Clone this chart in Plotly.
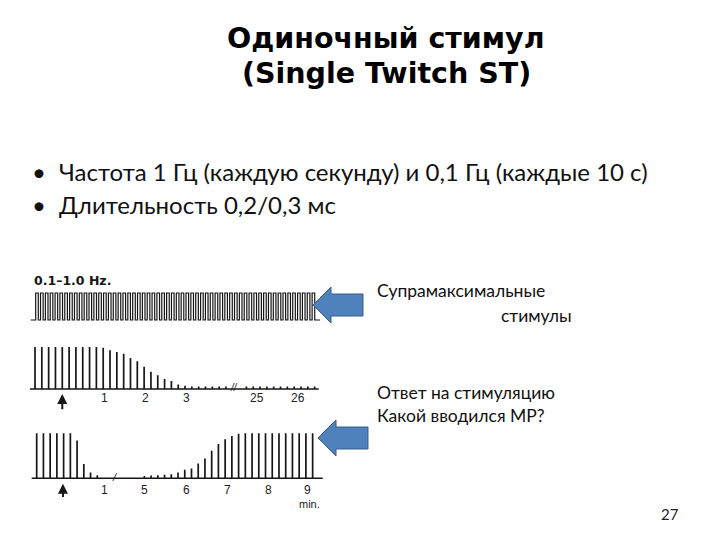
import plotly.graph_objects as go

# ---------------- data ----------------
title_lines = ["Одиночный стимул", "(Single Twitch ST)"]
bullets = ["Частота 1 Гц (каждую секунду) и 0,1 Гц (каждые 10 с)",
           "Длительность 0,2/0,3 мс"]
side_texts = ["Супрамаксимальные", "стимулы", "Ответ на стимуляцию", "Какой вводился МР?"]
page_number = "27"

# strip 1: supramaximal stimuli (constant amplitude)
stim_idx = list(range(58))
stim_amp = [1, 1, 1, 1, 1, 1, 1, 1, 1, 1, 1, 1, 1, 1, 1, 1, 1, 1, 1, 1,
            1, 1, 1, 1, 1, 1, 1, 1, 1, 1, 1, 1, 1, 1, 1, 1, 1, 1, 1, 1,
            1, 1, 1, 1, 1, 1, 1, 1, 1, 1, 1, 1, 1, 1, 1, 1, 1, 1]
stim_label = "0.1–1.0 Hz."

# strip 2: twitch response (depolarising block)
resp2_idx = list(range(29)) + list(range(31, 42))
resp2_h = [1, 1, 1, 1, 1, 1, 1, 1, 1, 1,
           0.98, 0.92, 0.88, 0.84, 0.74, 0.66, 0.53, 0.41, 0.33, 0.24,
           0.19, 0.11, 0.08, 0.06, 0.06, 0.06, 0.06, 0.06, 0.06,
           0.06, 0.06, 0.06, 0.06, 0.06, 0.06, 0.06, 0.06, 0.06, 0.06, 0.06]
resp2_tick_pos = [10.2, 16.2, 22.2, 32.6, 38.6]
resp2_tick_txt = ["1", "2", "3", "25", "26"]
resp2_inject = 4
resp2_break = 29.2

# strip 3: twitch response (non-depolarising block and recovery)
resp3_idx = list(range(10)) + list(range(16, 42))
resp3_h = [1, 1, 1, 1, 1, 1, 0.84, 0.32, 0.13, 0.07,
           0.05, 0.06, 0.07, 0.08, 0.09, 0.13, 0.19, 0.22, 0.33, 0.44,
           0.61, 0.76, 0.87, 0.94, 0.99, 1, 1, 1, 1, 1, 1, 1, 1, 1, 1, 1]
resp3_tick_pos = [10.1, 16.0, 22.3, 28.3, 34.4, 40.3]
resp3_tick_txt = ["1", "5", "6", "7", "8", "9"]
resp3_inject = 3.9
resp3_break = 11.6
resp3_unit = "min."

# page is 720x540 with an 8px body margin around the figure
OFF = 8
W, H = 720 - 2 * OFF, 540 - 2 * OFF
INK = "#161616"


def fx(px):
    return (px - OFF) / W


def fy(py):
    return 1 - (py - OFF) / H


def px_dom(a, b):
    return [fx(a), fx(b)]


def py_dom(top, bottom):
    return [fy(bottom), fy(top)]


fig = go.Figure()

# ---- strip 1: square pulses ----
sx, sy = [-1.3], [0]
for i, a in zip(stim_idx, stim_amp):
    sx += [i - 0.27, i - 0.27, i + 0.27, i + 0.27]
    sy += [0, a, a, 0]
sx.append(58.4)
sy.append(0)
fig.add_trace(go.Scatter(x=sx, y=sy, mode="lines", line=dict(color=INK, width=1.2),
                         xaxis="x", yaxis="y", hoverinfo="skip", showlegend=False))

# ---- strip 2 ----
bx, by = [], []
for i, h in zip(resp2_idx, resp2_h):
    bx += [i, i, None]
    by += [0, h, None]
fig.add_trace(go.Scatter(x=bx, y=by, mode="lines", line=dict(color=INK, width=1.7),
                         xaxis="x2", yaxis="y2", hoverinfo="skip", showlegend=False))
fig.add_trace(go.Scatter(x=[-0.75, 41.6], y=[0, 0], mode="lines", line=dict(color=INK, width=1.6),
                         xaxis="x2", yaxis="y2", hoverinfo="skip", showlegend=False))

# ---- strip 3 ----
cx, cy = [], []
for i, h in zip(resp3_idx, resp3_h):
    cx += [i, i, None]
    cy += [0, h, None]
fig.add_trace(go.Scatter(x=cx, y=cy, mode="lines", line=dict(color=INK, width=1.7),
                         xaxis="x3", yaxis="y3", hoverinfo="skip", showlegend=False))
fig.add_trace(go.Scatter(x=[-0.75, 42.5], y=[0, 0], mode="lines", line=dict(color=INK, width=1.6),
                         xaxis="x3", yaxis="y3", hoverinfo="skip", showlegend=False))

MID = dict(xanchor="center", yanchor="middle", showarrow=False)
ann = []
tickfont = dict(family="Liberation Sans", size=12, color="#222")
for p, t in zip(resp2_tick_pos, resp2_tick_txt):
    ann.append(dict(x=p, y=-0.22, xref="x2", yref="y2", text=t, font=tickfont, **MID))
for p, t in zip(resp3_tick_pos, resp3_tick_txt):
    ann.append(dict(x=p, y=-0.26, xref="x3", yref="y3", text=t, font=tickfont, **MID))
ann.append(dict(x=resp3_tick_pos[-1] + 0.2, y=-0.58, xref="x3", yref="y3", text=resp3_unit,
                font=dict(family="Liberation Sans", size=11, color="#222"), **MID))
# injection arrows
ann.append(dict(x=resp2_inject, y=-0.12, ax=resp2_inject, ay=-0.52, xref="x2", yref="y2",
                axref="x2", ayref="y2", text="", showarrow=True, arrowhead=2, arrowsize=1,
                arrowwidth=2, arrowcolor=INK))
ann.append(dict(x=resp3_inject, y=-0.12, ax=resp3_inject, ay=-0.45, xref="x3", yref="y3",
                axref="x3", ayref="y3", text="", showarrow=True, arrowhead=2, arrowsize=1,
                arrowwidth=2, arrowcolor=INK))
# break marks
ann.append(dict(x=resp2_break, y=0.04, xref="x2", yref="y2", text="<i>//</i>",
                font=dict(family="Liberation Sans", size=10, color=INK), **MID))
ann.append(dict(x=resp3_break, y=0.04, xref="x3", yref="y3", text="<i>/</i>",
                font=dict(family="Liberation Sans", size=11, color=INK), **MID))
# strip 1 label
ann.append(dict(x=-1.1, y=1.48, xref="x", yref="y", text="<b>" + stim_label + "</b>",
                xanchor="left", yanchor="middle", showarrow=False,
                font=dict(family="DejaVu Sans", size=12.5, color=INK)))

# title
tfont = dict(family="DejaVu Sans", size=28.5, color="#000")
ann.append(dict(x=fx(386), y=fy(38), xref="paper", yref="paper", text="<b>" + title_lines[0] + "</b>",
                font=tfont, **MID))
ann.append(dict(x=fx(386), y=fy(74), xref="paper", yref="paper", text="<b>" + title_lines[1] + "</b>",
                font=tfont, **MID))
# bullets
bfont = dict(family="Lato", size=24, color="#111")
for yy, t in zip([172, 205], bullets):
    ann.append(dict(x=fx(30), y=fy(yy), xref="paper", yref="paper", text="•",
                    xanchor="left", yanchor="middle", showarrow=False, font=bfont))
    ann.append(dict(x=fx(57), y=fy(yy), xref="paper", yref="paper", text=t,
                    xanchor="left", yanchor="middle", showarrow=False, font=bfont))
# side texts
sfont = dict(family="Lato", size=17.5, color="#111")
for (xx, yy), t in zip([(375, 290), (499, 315), (375, 392), (375, 415)], side_texts):
    ann.append(dict(x=fx(xx), y=fy(yy), xref="paper", yref="paper", text=t,
                    xanchor="left", yanchor="middle", showarrow=False, font=sfont))
ann.append(dict(x=fx(670), y=fy(514), xref="paper", yref="paper", text=page_number,
                font=dict(family="Lato", size=15, color="#222"), **MID))

# blue block arrows (pointing left)
shapes = []
for tipx, cyy in [(313, 305), (318, 438)]:
    L, HL, HH, SH = 50, 18, 36, 22
    pts = [(tipx, cyy), (tipx + HL, cyy - HH / 2), (tipx + HL, cyy - SH / 2),
           (tipx + L, cyy - SH / 2), (tipx + L, cyy + SH / 2), (tipx + HL, cyy + SH / 2),
           (tipx + HL, cyy + HH / 2)]
    path = "M " + " L ".join(f"{fx(a):.5f},{fy(b):.5f}" for a, b in pts) + " Z"
    shapes.append(dict(type="path", xref="paper", yref="paper", path=path,
                       fillcolor="#4F81BD", line=dict(color="#385D8A", width=1)))

ax_common = dict(visible=False, fixedrange=True)
fig.update_layout(
    width=W, height=H, margin=dict(l=0, r=0, t=0, b=0),
    paper_bgcolor="white", plot_bgcolor="rgba(0,0,0,0)",
    showlegend=False, annotations=ann, shapes=shapes,
    xaxis=dict(range=[-1.5, 58.5], domain=px_dom(29.7, 320.7), **ax_common),
    yaxis=dict(range=[-0.2, 1.6], domain=py_dom(276.8, 325.4), **ax_common),
    xaxis2=dict(range=[-1, 42], domain=px_dom(28.18, 321.44), anchor="y2", **ax_common),
    yaxis2=dict(range=[-0.6, 1.1], domain=py_dom(342.8, 414.2), anchor="x2", **ax_common),
    xaxis3=dict(range=[-1, 43], domain=px_dom(29.97, 326.09), anchor="y3", **ax_common),
    yaxis3=dict(range=[-0.65, 1.1], domain=py_dom(428.8, 507.55), anchor="x3", **ax_common),
)

fig.write_html("out.html")
